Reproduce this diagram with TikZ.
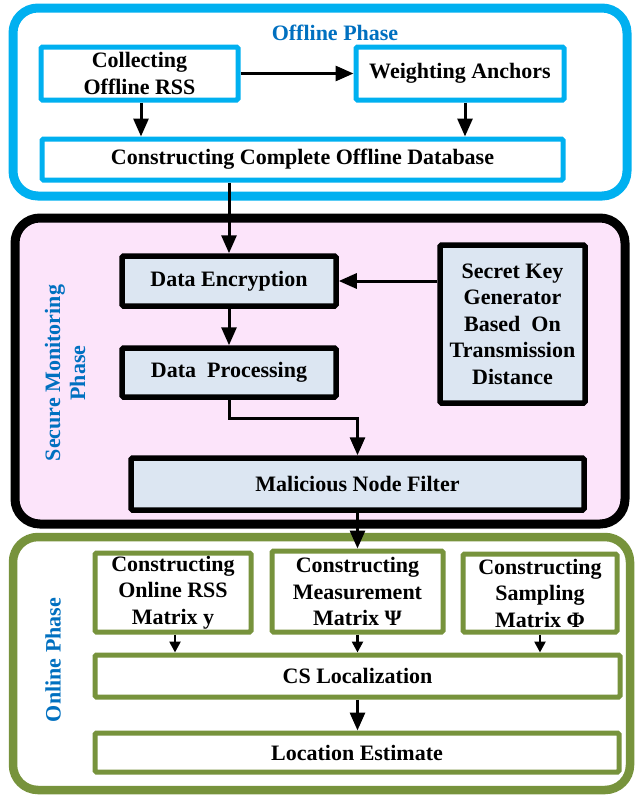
\documentclass[tikz,border=0pt]{standalone}
\usepackage{fontspec}
\setmainfont{Liberation Serif}
\usetikzlibrary{arrows.meta,calc}
\definecolor{offblue}{RGB}{0,176,240}
\definecolor{txtblue}{RGB}{0,112,192}
\definecolor{ongreen}{RGB}{119,147,60}
\definecolor{pinkbg}{RGB}{252,228,250}
\definecolor{boxfill}{RGB}{220,230,242}
\tikzset{
  x=1pt, y=-1pt,
  phasebox/.style={line width=9pt, rounded corners=25pt},
  base/.style={font=\fontsize{22}{26.5}\selectfont\bfseries, align=center, inner sep=0pt, rounded corners=1.5pt, line width=5pt},
  offbox/.style={base, draw=offblue, fill=white},
  secbox/.style={base, draw=black, fill=boxfill, line width=5.5pt},
  onbox/.style={base, draw=ongreen, fill=white},
  phaselabel/.style={font=\fontsize{22}{25}\selectfont\bfseries, text=txtblue, align=center},
  arr/.style={line width=3pt, -{Triangle[length=18pt,width=15pt]}},
  sarr/.style={line width=2.5pt, -{Triangle[length=11pt,width=11pt]}}
}
\begin{document}
\begin{tikzpicture}
\useasboundingbox (0,0) rectangle (635,796);
% phase frames
\draw[phasebox, draw=offblue, fill=white] (13,8) rectangle (627,196);
\draw[phasebox, draw=black, fill=pinkbg] (15,218) rectangle (625,524);
\draw[phasebox, draw=ongreen, fill=white, line width=8.5pt] (13,537) rectangle (630,790);
% phase labels
\node[phaselabel] (offlab) at (335,33) {Offline Phase};
\node[phaselabel, rotate=90] (seclab) at (65,373) {Secure Monitoring\\Phase};
\node[phaselabel, rotate=90] (onlab) at (53,660) {Online Phase};
% offline boxes
\node[offbox, minimum width=197pt, minimum height=53pt] (coll) at (139.5,73.5) {Collecting\\Offline RSS};
\node[offbox, minimum width=208pt, minimum height=53pt] (weight) at (460,73.5) {Weighting Anchors};
\node[offbox, minimum width=521pt, minimum height=41pt] (cdb) at (302.5,159.5) {Constructing Complete Offline Database};
% secure boxes
\node[secbox, minimum width=214pt, minimum height=50pt] (enc) at (229,281) {Data Encryption};
\node[secbox, minimum width=214pt, minimum height=49pt] (proc) at (229,372.5) {Data~ Processing};
\node[secbox, minimum width=145pt, minimum height=158pt] (key) at (512.5,324) {Secret Key\\Generator\\Based~ On\\Transmission\\Distance};
\node[secbox, minimum width=453pt, minimum height=52pt] (mal) at (357.5,484) {Malicious Node Filter};
% online boxes
\node[onbox, minimum width=156pt, minimum height=79pt] (rss) at (173,592.5) {Constructing\\Online RSS\\Matrix y};
\node[onbox, minimum width=171pt, minimum height=81pt] (meas) at (357.5,591.5) {Constructing\\Measurement\\Matrix Ψ};
\node[onbox, minimum width=154pt, minimum height=78pt] (samp) at (540,593) {Constructing\\Sampling\\Matrix Φ};
\node[onbox, minimum width=525pt, minimum height=42pt] (cs) at (357.5,676) {CS Localization};
\node[onbox, minimum width=524pt, minimum height=39pt] (loc) at (357,752.5) {Location Estimate};
% connectors
\draw[arr] (coll) -- (weight);
\draw[arr] ([xshift=1.5pt]coll.south) -- ([xshift=1.5pt]coll.south |- cdb.north);
\draw[arr] ([xshift=5pt]weight.south) -- ([xshift=5pt]weight.south |- cdb.north);
\draw[arr] (enc.north |- cdb.south) -- (enc.north);
\draw[arr] (key.west |- enc.east) -- (enc.east);
\draw[arr] (enc.south) -- (proc.north);
\coordinate (bend) at (229,418);
\draw[arr] (proc.south) -- (bend) -| (mal.north);
\draw[arr] (mal.south) -- (meas.north);
\draw[sarr] ([xshift=2pt]rss.south) -- ([xshift=2pt]rss.south |- cs.north);
\draw[sarr] (meas.south) -- (meas.south |- cs.north);
\draw[sarr] (samp.south) -- (samp.south |- cs.north);
\draw[arr] (cs.south) -- (cs.south |- loc.north);
\end{tikzpicture}
\end{document}
